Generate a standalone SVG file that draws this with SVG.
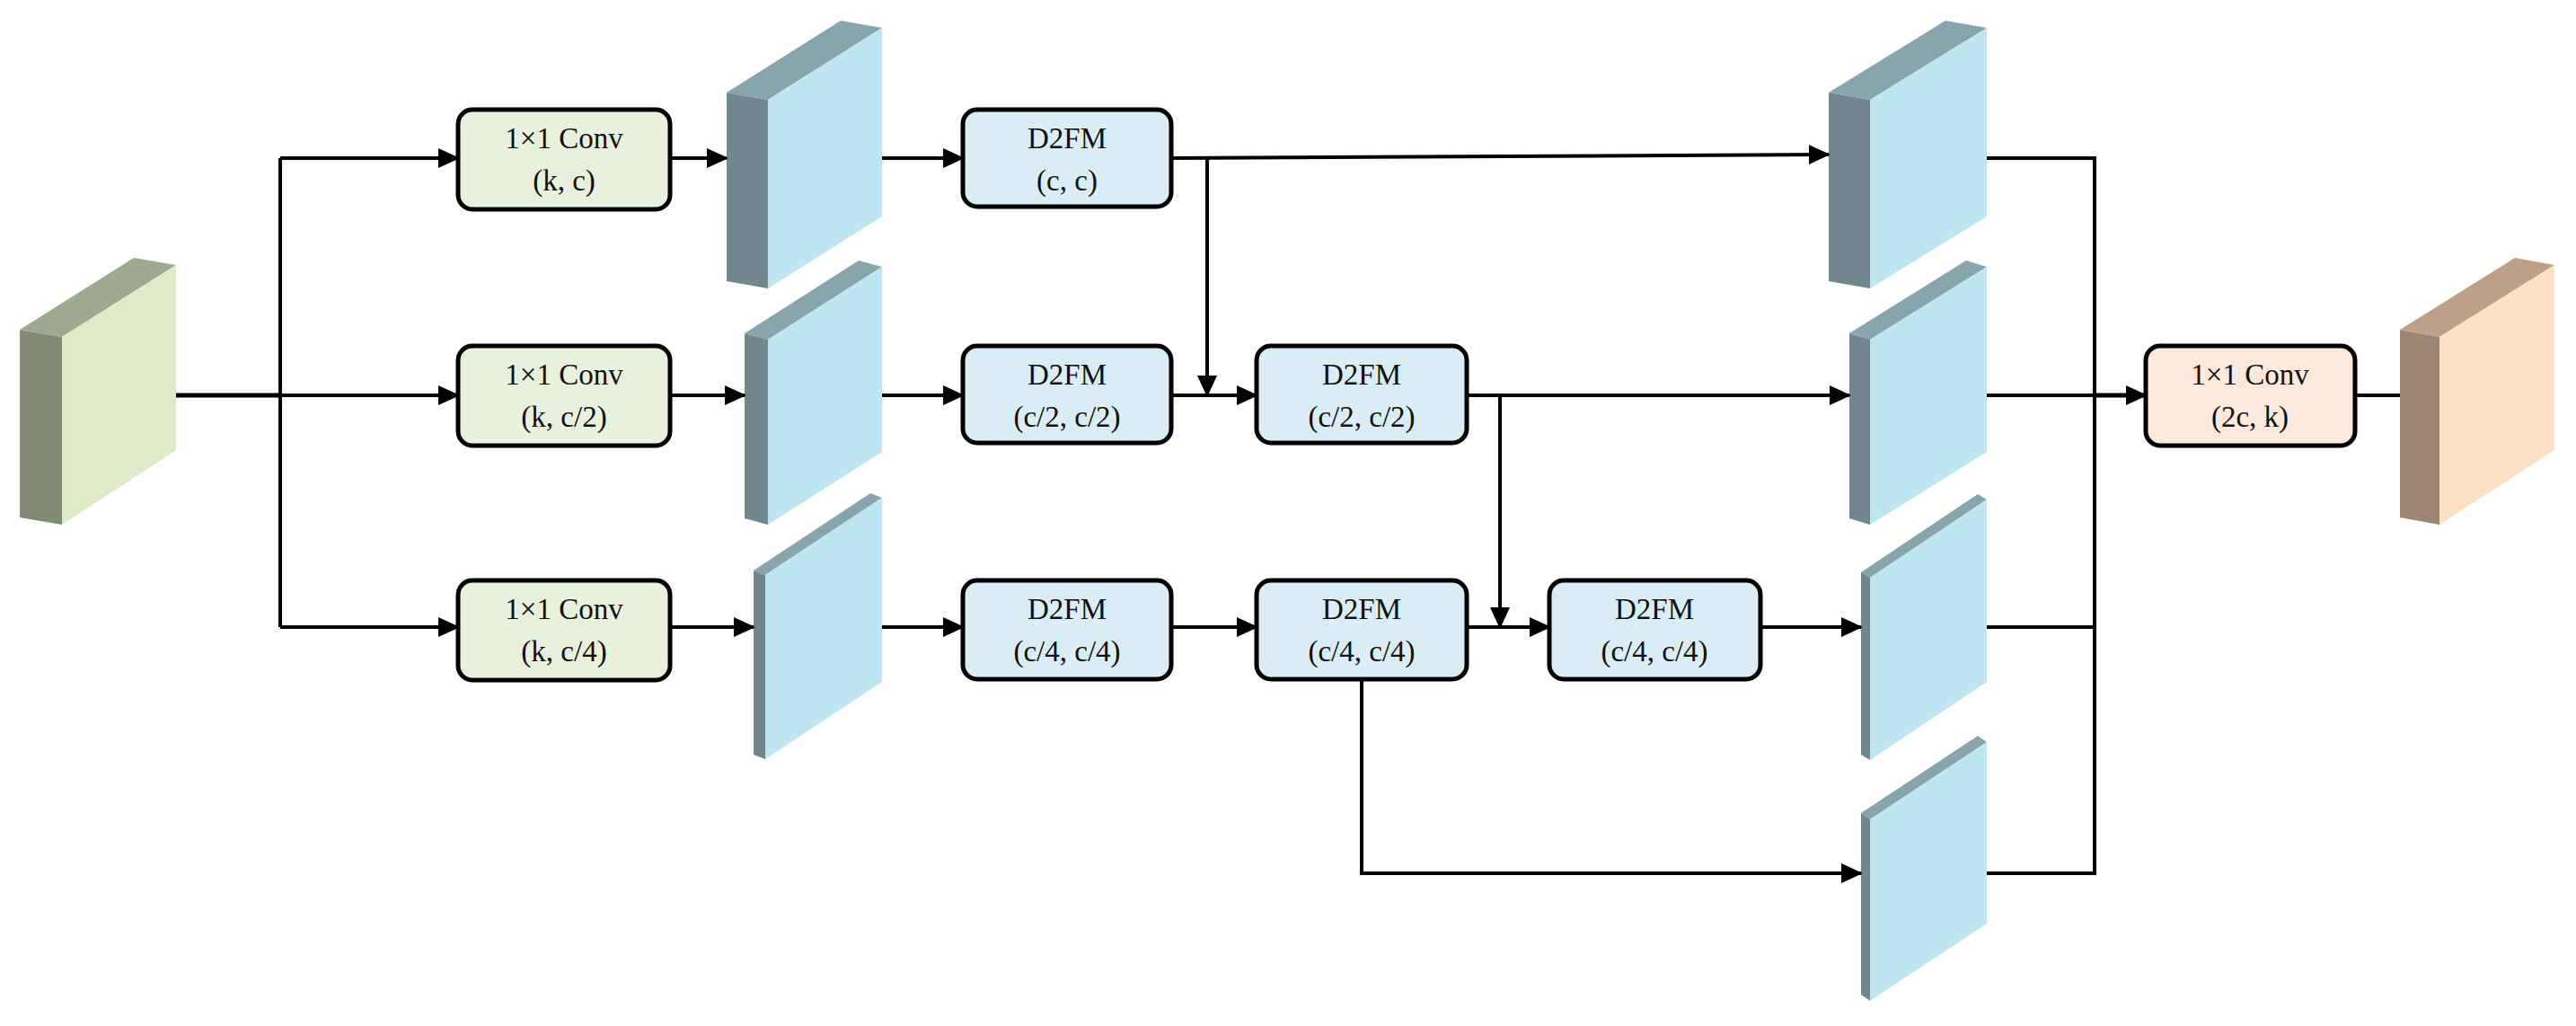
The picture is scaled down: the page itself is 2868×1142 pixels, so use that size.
<svg xmlns="http://www.w3.org/2000/svg" width="2868" height="1142" viewBox="0 0 2868 1142">
<style>
.box{stroke:#000;stroke-width:5}
.conv{fill:#e9f0de}
.d2{fill:#dbedf4}
.out{fill:#fce9dc}
.t{font-family:"Liberation Serif",serif;font-size:33px;text-anchor:middle;fill:#111}
.ln{fill:none;stroke:#000;stroke-width:4}
.ln2{fill:none;stroke:#000;stroke-width:5}
.bs{fill:#72868d}.bt{fill:#88a4ac}.bf{fill:#bfe6f0}
</style>
<defs>
<marker id="a" markerUnits="userSpaceOnUse" markerWidth="24" markerHeight="24" viewBox="0 0 24 24" refX="22" refY="12" orient="auto"><path d="M0,1 L24,12 L0,23 Z" fill="#000"/></marker>
</defs>

<g id="input">
<polygon points="22,367 69,375 69,584 22,576" fill="#838b75"/>
<polygon points="22,367 69,375 196,295 149,287" fill="#a0a88f"/>
<polygon points="69,375 196,295 196,501 69,584" fill="#e0eac8"/>
</g>

<g id="f1">
<polygon class="bs" points="809,103 855,111 855,321 809,313"/>
<polygon class="bt" points="809,103 855,111 982,31 936,23"/>
<polygon class="bf" points="855,111 982,31 982,241 855,321"/>
</g>
<g id="f2">
<polygon class="bs" points="829,371 855,378 855,584 829,577"/>
<polygon class="bt" points="829,371 855,378 982,297 956,290"/>
<polygon class="bf" points="855,378 982,297 982,503 855,584"/>
</g>
<g id="f3">
<polygon class="bs" points="839,635 852,640 852,845 839,840"/>
<polygon class="bt" points="839,635 852,640 982,554 969,549"/>
<polygon class="bf" points="852,640 982,554 982,759 852,845"/>
</g>

<g id="o1">
<polygon class="bs" points="2036,103 2082,111 2082,321 2036,313"/>
<polygon class="bt" points="2036,103 2082,111 2212,31 2166,23"/>
<polygon class="bf" points="2082,111 2212,31 2212,241 2082,321"/>
</g>
<g id="o2">
<polygon class="bs" points="2059,371 2082,378 2082,584 2059,577"/>
<polygon class="bt" points="2059,371 2082,378 2212,297 2189,290"/>
<polygon class="bf" points="2082,378 2212,297 2212,503 2082,584"/>
</g>
<g id="o3">
<polygon class="bs" points="2072,637 2082,643 2082,846 2072,840"/>
<polygon class="bt" points="2072,637 2082,643 2212,556 2202,550"/>
<polygon class="bf" points="2082,643 2212,556 2212,759 2082,846"/>
</g>
<g id="o4">
<polygon class="bs" points="2072,905 2082,912 2082,1114 2072,1107"/>
<polygon class="bt" points="2072,905 2082,912 2212,826 2202,819"/>
<polygon class="bf" points="2082,912 2212,826 2212,1028 2082,1114"/>
</g>

<g id="output">
<polygon points="2672,367 2716,375 2716,584 2672,576" fill="#9b8574"/>
<polygon points="2672,367 2716,375 2844,295 2800,287" fill="#bca08a"/>
<polygon points="2716,375 2844,295 2844,501 2716,584" fill="#fde1c5"/>
</g>

<g id="connectors">
<path class="ln2" d="M196,440 H312"/>
<path class="ln" d="M312,176 V698"/>
<path class="ln" d="M312,176 H510" marker-end="url(#a)"/>
<path class="ln" d="M312,440 H510" marker-end="url(#a)"/>
<path class="ln" d="M312,698 H510" marker-end="url(#a)"/>
<path class="ln" d="M746,176 H809" marker-end="url(#a)"/>
<path class="ln" d="M746,440 H829" marker-end="url(#a)"/>
<path class="ln" d="M746,698 H839" marker-end="url(#a)"/>
<path class="ln" d="M982,176 H1072" marker-end="url(#a)"/>
<path class="ln" d="M982,440 H1072" marker-end="url(#a)"/>
<path class="ln" d="M982,698 H1072" marker-end="url(#a)"/>
<path class="ln" d="M1304,176 L2036,172" marker-end="url(#a)"/>
<path class="ln" d="M1344,176 V440" marker-end="url(#a)"/>
<path class="ln" d="M1304,440 H1399" marker-end="url(#a)"/>
<path class="ln" d="M1633,440 H2059" marker-end="url(#a)"/>
<path class="ln" d="M1670,440 V698" marker-end="url(#a)"/>
<path class="ln" d="M1304,698 H1399" marker-end="url(#a)"/>
<path class="ln" d="M1633,698 H1725" marker-end="url(#a)"/>
<path class="ln" d="M1960,698 H2072" marker-end="url(#a)"/>
<path class="ln" d="M1516,758 V972 H2072" marker-end="url(#a)"/>
<path class="ln" d="M2212,176 H2332 V972 H2212"/>
<path class="ln" d="M2212,440 H2332"/>
<path class="ln" d="M2212,698 H2332"/>
<path class="ln2" d="M2332,440 H2389" marker-end="url(#a)"/>
<path class="ln" d="M2622,440 H2672"/>
</g>

<g id="c1"><rect class="box conv" x="510" y="122" width="236" height="111" rx="16"/><text class="t" x="628" y="165">1×1 Conv</text><text class="t" x="628" y="212">(k, c)</text></g>
<g id="c2"><rect class="box conv" x="510" y="385" width="236" height="111" rx="16"/><text class="t" x="628" y="428">1×1 Conv</text><text class="t" x="628" y="475">(k, c/2)</text></g>
<g id="c3"><rect class="box conv" x="510" y="646" width="236" height="111" rx="16"/><text class="t" x="628" y="689">1×1 Conv</text><text class="t" x="628" y="736">(k, c/4)</text></g>

<g id="d11"><rect class="box d2" x="1072" y="122" width="232" height="108" rx="16"/><text class="t" x="1188" y="165">D2FM</text><text class="t" x="1188" y="212">(c, c)</text></g>
<g id="d21"><rect class="box d2" x="1072" y="385" width="232" height="108" rx="16"/><text class="t" x="1188" y="428">D2FM</text><text class="t" x="1188" y="475">(c/2, c/2)</text></g>
<g id="d22"><rect class="box d2" x="1399" y="385" width="234" height="108" rx="16"/><text class="t" x="1516" y="428">D2FM</text><text class="t" x="1516" y="475">(c/2, c/2)</text></g>
<g id="d31"><rect class="box d2" x="1072" y="646" width="232" height="110" rx="16"/><text class="t" x="1188" y="689">D2FM</text><text class="t" x="1188" y="736">(c/4, c/4)</text></g>
<g id="d32"><rect class="box d2" x="1399" y="646" width="234" height="110" rx="16"/><text class="t" x="1516" y="689">D2FM</text><text class="t" x="1516" y="736">(c/4, c/4)</text></g>
<g id="d33"><rect class="box d2" x="1725" y="646" width="235" height="110" rx="16"/><text class="t" x="1842" y="689">D2FM</text><text class="t" x="1842" y="736">(c/4, c/4)</text></g>

<g id="c4"><rect class="box out" x="2389" y="385" width="233" height="111" rx="16"/><text class="t" x="2505" y="428">1×1 Conv</text><text class="t" x="2505" y="475">(2c, k)</text></g>
</svg>
